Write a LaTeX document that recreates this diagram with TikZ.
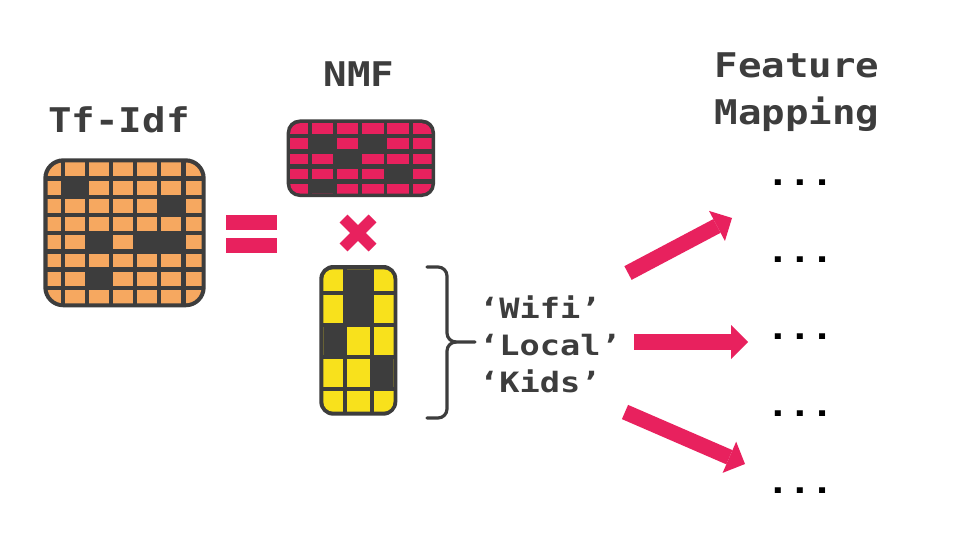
\documentclass[tikz,border=0pt]{standalone}
\usepackage{fontspec}
\usetikzlibrary{arrows.meta}
\newfontfamily\ttl[FakeStretch=1.15]{DejaVu Sans Mono}
\newfontfamily\lbl[FakeStretch=1.2]{DejaVu Sans Mono}
\definecolor{dk}{HTML}{3D3D3D}
\definecolor{pk}{HTML}{E8215E}
\definecolor{orng}{HTML}{F6A860}
\definecolor{yel}{HTML}{F8E11C}
\tikzset{
  titletext/.style={text=dk, inner sep=0pt, anchor=base, font=\ttl\bfseries\fontsize{34}{40}\selectfont},
  labeltext/.style={text=dk, inner sep=0pt, anchor=base west, font=\lbl\bfseries\fontsize{28}{34}\selectfont},
  dotstext/.style={text=black, inner sep=0pt, anchor=base, font=\ttl\bfseries\fontsize{32}{40}\selectfont},
  bigarrow/.style={draw=pk, line width=15.5pt, -{Triangle[length=17pt,width=34pt,line width=0pt]}},
  bracestyle/.style={draw=dk, line width=3.2pt, line cap=round, line join=round},
}
\begin{document}
\begin{tikzpicture}[x=1pt,y=-1pt]
\useasboundingbox (0,0) rectangle (960,540);
\fill[white] (0,0) rectangle (960,540);

% titles
\node[titletext] (tfidf) at (119,133) {Tf-Idf};
\node[titletext] (nmf) at (359,87) {NMF};
\node[titletext] (fm1) at (797,78) {Feature};
\node[titletext] (fm2) at (797,125) {Mapping};

% Tf-Idf matrix
\fill[dk, rounded corners=20pt] (43.3,158.3) rectangle (205.7,307.3);
\begin{scope}
\clip[rounded corners=16pt] (47.5,162.5) rectangle (201.5,303.3);
\foreach \c in {1,...,7}{\foreach \r in {1,...,8}{
  \fill[orng] ({64.8+(\c-2)*24.15},{162.5+(\r-1)*18.2}) rectangle ++(20,13.8);
}}
\foreach \c/\r in {2/2,6/3,3/5,5/5,6/5,3/7}{
  \fill[dk] ({64.8+(\c-2)*24.15-0.5},{162.5+(\r-1)*18.2-0.5}) rectangle ++(21,14.8);
}
\end{scope}

% equals
\fill[pk] (226,215) rectangle (277,230);
\fill[pk] (226,238) rectangle (277,253);

% NMF matrix
\fill[dk, rounded corners=13pt] (286.7,119.5) rectangle (435,197);
\begin{scope}
\clip[rounded corners=10pt] (290.2,123.2) rectangle (431.5,193.5);
\foreach \c in {1,...,6}{\foreach \r in {1,...,5}{
  \fill[pk] ({311.7+(\c-2)*25.2},{123.4+(\r-1)*15.1}) rectangle ++(21.5,10.6);
}}
\foreach \c/\r in {2/2,4/2,3/3,5/4,2/5}{
  \fill[dk] ({311.7+(\c-2)*25.2-0.5},{123.4+(\r-1)*15.1-0.5}) rectangle ++(22.5,11.6);
}
\end{scope}

% times
\draw[pk, line width=11pt] (343.5,218.5) -- (372.5,247.5);
\draw[pk, line width=11pt] (343.5,247.5) -- (372.5,218.5);

% yellow matrix
\fill[dk, rounded corners=14pt] (319.3,265) rectangle (397.3,415.7);
\begin{scope}
\clip[rounded corners=10pt] (323.3,269.3) rectangle (393.5,411.7);
\foreach \xa/\xb in {318/342.7,346.7/370.3,374.3/400}{
  \foreach \ya/\yb in {263/291,295.3/323.3,327.3/355,359/386.7,390.5/418}{
    \fill[yel] (\xa,\ya) rectangle (\xb,\yb);
}}
\fill[dk] (346.2,262) rectangle (370.8,291.5);
\fill[dk] (346.2,294.8) rectangle (370.8,323.8);
\fill[dk] (317,326.8) rectangle (343.2,355.5);
\fill[dk] (373.8,358.5) rectangle (401,387.2);
\end{scope}

% brace
\coordinate (bt) at (427,267);
\coordinate (bb) at (427,418);
\coordinate (bm) at (475,342);
\draw[bracestyle] (bt) -- (438,267) to[out=0,in=90] (447,276) -- (447,333)
   to[out=-90,in=180] (456,342) -- (bm);
\draw[bracestyle] (bb) -- (438,418) to[out=0,in=-90] (447,409) -- (447,351)
   to[out=90,in=180] (456,342);

% labels
\node[labeltext] (wifi) at (479,318) {‘Wifi’};
\node[labeltext] (local) at (479,355) {‘Local’};
\node[labeltext] (kids) at (479,392) {‘Kids’};

% dots
\node[dotstext] (d1) at (800,185.7) {...};
\node[dotstext] (d2) at (800,262.5) {...};
\node[dotstext] (d3) at (800,339.3) {...};
\node[dotstext] (d4) at (800,416) {...};
\node[dotstext] (d5) at (800,493.3) {...};

% arrows
\coordinate (t1) at (628,273); \coordinate (h1) at (732,218);
\coordinate (t2) at (634,342); \coordinate (h2) at (748,342);
\coordinate (t3) at (625,412); \coordinate (h3) at (745,464);
\draw[bigarrow] (t1) -- (h1);
\draw[bigarrow] (t2) -- (h2);
\draw[bigarrow] (t3) -- (h3);
\end{tikzpicture}
\end{document}
